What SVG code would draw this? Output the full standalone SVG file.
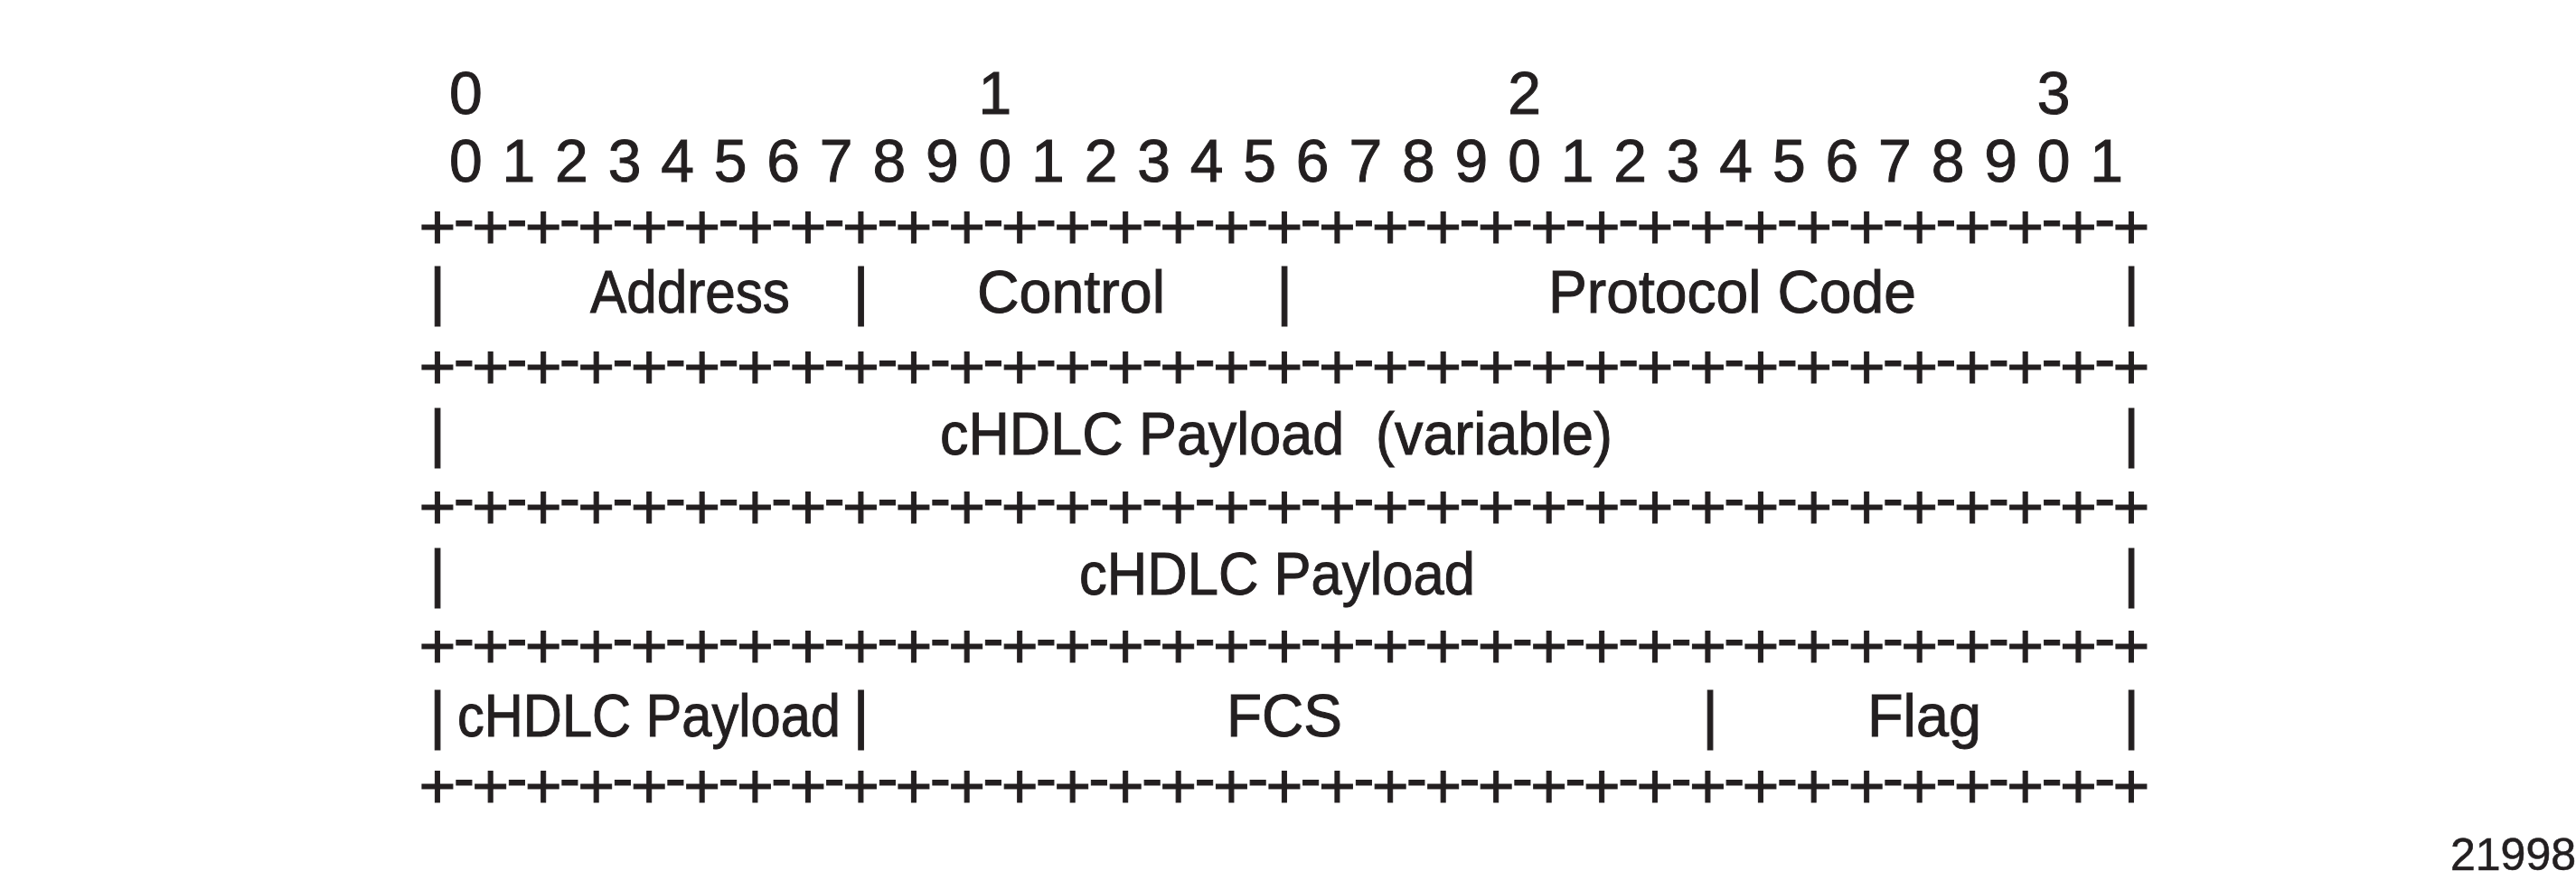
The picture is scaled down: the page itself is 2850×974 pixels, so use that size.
<svg xmlns="http://www.w3.org/2000/svg" width="2850" height="974" viewBox="0 0 2850 974">
<style>
text{font-family:"Liberation Sans",Arial,Helvetica,sans-serif;fill:#231f20;stroke:#231f20;stroke-width:1}
.num{font-size:66px;text-anchor:middle}
.rule{font-size:70px;text-anchor:middle}
.bar{font-size:70px;text-anchor:middle}
.lbl{font-size:66px}
.fig{font-size:50px;text-anchor:end;stroke-width:0.6}
</style>
<rect width="2850" height="974" fill="#ffffff"/>
<g id="bit-ruler">
<text class="num" y="126" x="515.3 808 1100.9 1393 1686.5 1979 2272.1">0 1 2 3</text>
<text class="num" y="201" x="515.3 544.6 573.8 603.1 632.4 661.7 691 720.2 749.5 778.8 808.1 837.4 866.6 895.9 925.2 954.5 983.8 1013 1042.3 1071.6 1100.9 1130.2 1159.4 1188.7 1218 1247.3 1276.6 1305.8 1335.1 1364.4 1393.7 1423 1452.2 1481.5 1510.8 1540.1 1569.4 1598.6 1627.9 1657.2 1686.5 1715.8 1745 1774.3 1803.6 1832.9 1862.2 1891.4 1920.7 1950 1979.3 2008.6 2037.8 2067.1 2096.4 2125.7 2155 2184.2 2213.5 2242.8 2272.1 2301.4 2330.6">0 1 2 3 4 5 6 7 8 9 0 1 2 3 4 5 6 7 8 9 0 1 2 3 4 5 6 7 8 9 0 1</text>
</g>
<g id="connectors">
<text class="rule" y="274.7" x="484 513.3 542.6 571.8 601.1 630.4 659.7 689 718.2 747.5 776.8 806.1 835.4 864.6 893.9 923.2 952.5 981.8 1011 1040.3 1069.6 1098.9 1128.2 1157.4 1186.7 1216 1245.3 1274.6 1303.8 1333.1 1362.4 1391.7 1421 1450.2 1479.5 1508.8 1538.1 1567.4 1596.6 1625.9 1655.2 1684.5 1713.8 1743 1772.3 1801.6 1830.9 1860.2 1889.4 1918.7 1948 1977.3 2006.6 2035.8 2065.1 2094.4 2123.7 2153 2182.2 2211.5 2240.8 2270.1 2299.4 2328.6 2357.9" dy="0 -9.1 9.1 -9.1 9.1 -9.1 9.1 -9.1 9.1 -9.1 9.1 -9.1 9.1 -9.1 9.1 -9.1 9.1 -9.1 9.1 -9.1 9.1 -9.1 9.1 -9.1 9.1 -9.1 9.1 -9.1 9.1 -9.1 9.1 -9.1 9.1 -9.1 9.1 -9.1 9.1 -9.1 9.1 -9.1 9.1 -9.1 9.1 -9.1 9.1 -9.1 9.1 -9.1 9.1 -9.1 9.1 -9.1 9.1 -9.1 9.1 -9.1 9.1 -9.1 9.1 -9.1 9.1 -9.1 9.1 -9.1 9.1">+-+-+-+-+-+-+-+-+-+-+-+-+-+-+-+-+-+-+-+-+-+-+-+-+-+-+-+-+-+-+-+-+</text>
<text class="rule" y="429.6" x="484 513.3 542.6 571.8 601.1 630.4 659.7 689 718.2 747.5 776.8 806.1 835.4 864.6 893.9 923.2 952.5 981.8 1011 1040.3 1069.6 1098.9 1128.2 1157.4 1186.7 1216 1245.3 1274.6 1303.8 1333.1 1362.4 1391.7 1421 1450.2 1479.5 1508.8 1538.1 1567.4 1596.6 1625.9 1655.2 1684.5 1713.8 1743 1772.3 1801.6 1830.9 1860.2 1889.4 1918.7 1948 1977.3 2006.6 2035.8 2065.1 2094.4 2123.7 2153 2182.2 2211.5 2240.8 2270.1 2299.4 2328.6 2357.9" dy="0 -9.1 9.1 -9.1 9.1 -9.1 9.1 -9.1 9.1 -9.1 9.1 -9.1 9.1 -9.1 9.1 -9.1 9.1 -9.1 9.1 -9.1 9.1 -9.1 9.1 -9.1 9.1 -9.1 9.1 -9.1 9.1 -9.1 9.1 -9.1 9.1 -9.1 9.1 -9.1 9.1 -9.1 9.1 -9.1 9.1 -9.1 9.1 -9.1 9.1 -9.1 9.1 -9.1 9.1 -9.1 9.1 -9.1 9.1 -9.1 9.1 -9.1 9.1 -9.1 9.1 -9.1 9.1 -9.1 9.1 -9.1 9.1">+-+-+-+-+-+-+-+-+-+-+-+-+-+-+-+-+-+-+-+-+-+-+-+-+-+-+-+-+-+-+-+-+</text>
<text class="rule" y="584.5" x="484 513.3 542.6 571.8 601.1 630.4 659.7 689 718.2 747.5 776.8 806.1 835.4 864.6 893.9 923.2 952.5 981.8 1011 1040.3 1069.6 1098.9 1128.2 1157.4 1186.7 1216 1245.3 1274.6 1303.8 1333.1 1362.4 1391.7 1421 1450.2 1479.5 1508.8 1538.1 1567.4 1596.6 1625.9 1655.2 1684.5 1713.8 1743 1772.3 1801.6 1830.9 1860.2 1889.4 1918.7 1948 1977.3 2006.6 2035.8 2065.1 2094.4 2123.7 2153 2182.2 2211.5 2240.8 2270.1 2299.4 2328.6 2357.9" dy="0 -9.1 9.1 -9.1 9.1 -9.1 9.1 -9.1 9.1 -9.1 9.1 -9.1 9.1 -9.1 9.1 -9.1 9.1 -9.1 9.1 -9.1 9.1 -9.1 9.1 -9.1 9.1 -9.1 9.1 -9.1 9.1 -9.1 9.1 -9.1 9.1 -9.1 9.1 -9.1 9.1 -9.1 9.1 -9.1 9.1 -9.1 9.1 -9.1 9.1 -9.1 9.1 -9.1 9.1 -9.1 9.1 -9.1 9.1 -9.1 9.1 -9.1 9.1 -9.1 9.1 -9.1 9.1 -9.1 9.1 -9.1 9.1">+-+-+-+-+-+-+-+-+-+-+-+-+-+-+-+-+-+-+-+-+-+-+-+-+-+-+-+-+-+-+-+-+</text>
<text class="rule" y="739.4" x="484 513.3 542.6 571.8 601.1 630.4 659.7 689 718.2 747.5 776.8 806.1 835.4 864.6 893.9 923.2 952.5 981.8 1011 1040.3 1069.6 1098.9 1128.2 1157.4 1186.7 1216 1245.3 1274.6 1303.8 1333.1 1362.4 1391.7 1421 1450.2 1479.5 1508.8 1538.1 1567.4 1596.6 1625.9 1655.2 1684.5 1713.8 1743 1772.3 1801.6 1830.9 1860.2 1889.4 1918.7 1948 1977.3 2006.6 2035.8 2065.1 2094.4 2123.7 2153 2182.2 2211.5 2240.8 2270.1 2299.4 2328.6 2357.9" dy="0 -9.1 9.1 -9.1 9.1 -9.1 9.1 -9.1 9.1 -9.1 9.1 -9.1 9.1 -9.1 9.1 -9.1 9.1 -9.1 9.1 -9.1 9.1 -9.1 9.1 -9.1 9.1 -9.1 9.1 -9.1 9.1 -9.1 9.1 -9.1 9.1 -9.1 9.1 -9.1 9.1 -9.1 9.1 -9.1 9.1 -9.1 9.1 -9.1 9.1 -9.1 9.1 -9.1 9.1 -9.1 9.1 -9.1 9.1 -9.1 9.1 -9.1 9.1 -9.1 9.1 -9.1 9.1 -9.1 9.1 -9.1 9.1">+-+-+-+-+-+-+-+-+-+-+-+-+-+-+-+-+-+-+-+-+-+-+-+-+-+-+-+-+-+-+-+-+</text>
<text class="rule" y="894" x="484 513.3 542.6 571.8 601.1 630.4 659.7 689 718.2 747.5 776.8 806.1 835.4 864.6 893.9 923.2 952.5 981.8 1011 1040.3 1069.6 1098.9 1128.2 1157.4 1186.7 1216 1245.3 1274.6 1303.8 1333.1 1362.4 1391.7 1421 1450.2 1479.5 1508.8 1538.1 1567.4 1596.6 1625.9 1655.2 1684.5 1713.8 1743 1772.3 1801.6 1830.9 1860.2 1889.4 1918.7 1948 1977.3 2006.6 2035.8 2065.1 2094.4 2123.7 2153 2182.2 2211.5 2240.8 2270.1 2299.4 2328.6 2357.9" dy="0 -9.1 9.1 -9.1 9.1 -9.1 9.1 -9.1 9.1 -9.1 9.1 -9.1 9.1 -9.1 9.1 -9.1 9.1 -9.1 9.1 -9.1 9.1 -9.1 9.1 -9.1 9.1 -9.1 9.1 -9.1 9.1 -9.1 9.1 -9.1 9.1 -9.1 9.1 -9.1 9.1 -9.1 9.1 -9.1 9.1 -9.1 9.1 -9.1 9.1 -9.1 9.1 -9.1 9.1 -9.1 9.1 -9.1 9.1 -9.1 9.1 -9.1 9.1 -9.1 9.1 -9.1 9.1 -9.1 9.1 -9.1 9.1">+-+-+-+-+-+-+-+-+-+-+-+-+-+-+-+-+-+-+-+-+-+-+-+-+-+-+-+-+-+-+-+-+</text>
<text class="bar" x="484" y="345.5">|</text>
<text class="bar" x="952.5" y="345.5">|</text>
<text class="bar" x="1421" y="345.5">|</text>
<text class="bar" x="2358" y="345.5">|</text>
<text class="bar" x="484" y="503">|</text>
<text class="bar" x="2358" y="503">|</text>
<text class="bar" x="484" y="658">|</text>
<text class="bar" x="2358" y="658">|</text>
<text class="bar" x="484" y="815">|</text>
<text class="bar" x="952.5" y="815">|</text>
<text class="bar" x="1892" y="815">|</text>
<text class="bar" x="2358" y="815">|</text>
</g>
<g id="field-address"><text class="lbl" x="653" y="345.5" textLength="221" lengthAdjust="spacingAndGlyphs">Address</text></g>
<g id="field-control"><text class="lbl" x="1081" y="345.5" textLength="208" lengthAdjust="spacingAndGlyphs">Control</text></g>
<g id="field-protocol-code"><text class="lbl" x="1713" y="345.5" textLength="407" lengthAdjust="spacingAndGlyphs">Protocol Code</text></g>
<g id="field-payload-variable"><text class="lbl" x="1040" y="503" textLength="744" lengthAdjust="spacingAndGlyphs" xml:space="preserve">cHDLC Payload  (variable)</text></g>
<g id="field-payload"><text class="lbl" x="1194" y="658" textLength="438" lengthAdjust="spacingAndGlyphs">cHDLC Payload</text></g>
<g id="field-payload-end"><text class="lbl" x="506" y="815" textLength="424" lengthAdjust="spacingAndGlyphs">cHDLC Payload</text></g>
<g id="field-fcs"><text class="lbl" x="1357" y="815" textLength="128" lengthAdjust="spacingAndGlyphs">FCS</text></g>
<g id="field-flag"><text class="lbl" x="2066" y="815" textLength="126" lengthAdjust="spacingAndGlyphs">Flag</text></g>
<g id="figure-number"><text class="fig" x="2850" y="963">21998</text></g>
</svg>
